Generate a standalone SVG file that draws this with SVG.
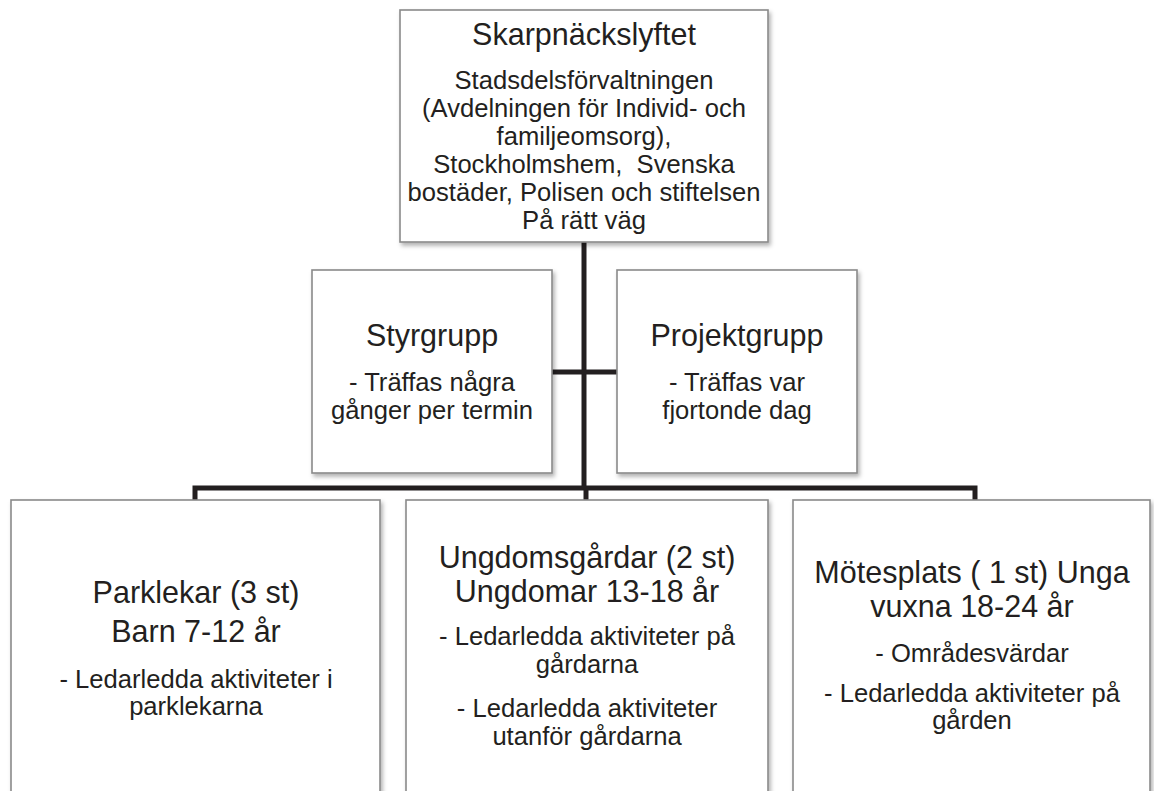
<svg xmlns="http://www.w3.org/2000/svg" width="1154" height="791" viewBox="0 0 1154 791">
<defs>
<filter id="sh" x="-5%" y="-5%" width="115%" height="115%">
<feDropShadow dx="2" dy="3" stdDeviation="2" flood-color="#000" flood-opacity="0.3"/>
</filter>
</defs>
<style>
.box{fill:#fff;stroke:#8a8a8a;stroke-width:1.6;filter:url(#sh)}
text{font-family:"Liberation Sans",Arial,sans-serif;fill:#231f20;text-anchor:middle}
.t{font-size:30.5px}
.b{font-size:25.6px}
.c{fill:none;stroke:#231f20;stroke-width:5;stroke-linejoin:miter;stroke-linecap:butt}
</style>
<rect width="1154" height="791" fill="#fff"/>
<g id="connectors">
<line class="c" x1="584" y1="242" x2="584" y2="488"/>
<line class="c" x1="552" y1="372" x2="617" y2="372"/>
<path class="c" d="M195,500 V488 H975 V500"/>
<line class="c" x1="586" y1="488" x2="586" y2="500"/>
</g>
<g id="top">
<rect class="box" x="400" y="10" width="368" height="232"/>
<text class="t" x="584" y="45">Skarpnäckslyftet</text>
<text class="b" x="584" y="89">Stadsdelsförvaltningen</text>
<text class="b" x="584" y="117">(Avdelningen för Individ- och</text>
<text class="b" x="584" y="145">familjeomsorg),</text>
<text class="b" x="584" y="173" xml:space="preserve">Stockholmshem,  Svenska</text>
<text class="b" x="584" y="201">bostäder, Polisen och stiftelsen</text>
<text class="b" x="584" y="229">På rätt väg</text>
</g>
<g id="styrgrupp">
<rect class="box" x="312" y="270" width="240" height="203"/>
<text class="t" x="432" y="346">Styrgrupp</text>
<text class="b" x="432" y="391">- Träffas några</text>
<text class="b" x="432" y="419">gånger per termin</text>
</g>
<g id="projektgrupp">
<rect class="box" x="617" y="270" width="240" height="203"/>
<text class="t" x="737" y="346">Projektgrupp</text>
<text class="b" x="737" y="391">- Träffas var</text>
<text class="b" x="737" y="419">fjortonde dag</text>
</g>
<g id="parklekar">
<rect class="box" x="11" y="500" width="369" height="310"/>
<text class="t" x="196" y="603">Parklekar (3 st)</text>
<text class="t" x="196" y="642">Barn 7-12 år</text>
<text class="b" x="196" y="688">- Ledarledda aktiviteter i</text>
<text class="b" x="196" y="715">parklekarna</text>
</g>
<g id="ungdomsgardar">
<rect class="box" x="406" y="500" width="362" height="310"/>
<text class="t" x="587" y="568">Ungdomsgårdar (2 st)</text>
<text class="t" x="587" y="602">Ungdomar 13-18 år</text>
<text class="b" x="587" y="645">- Ledarledda aktiviteter på</text>
<text class="b" x="587" y="673">gårdarna</text>
<text class="b" x="587" y="717">- Ledarledda aktiviteter</text>
<text class="b" x="587" y="745">utanför gårdarna</text>
</g>
<g id="motesplats">
<rect class="box" x="793" y="500" width="357" height="310"/>
<text class="t" x="972" y="583">Mötesplats ( 1 st) Unga</text>
<text class="t" x="972" y="617">vuxna 18-24 år</text>
<text class="b" x="972" y="662">- Områdesvärdar</text>
<text class="b" x="972" y="702">- Ledarledda aktiviteter på</text>
<text class="b" x="972" y="729">gården</text>
</g>
</svg>
